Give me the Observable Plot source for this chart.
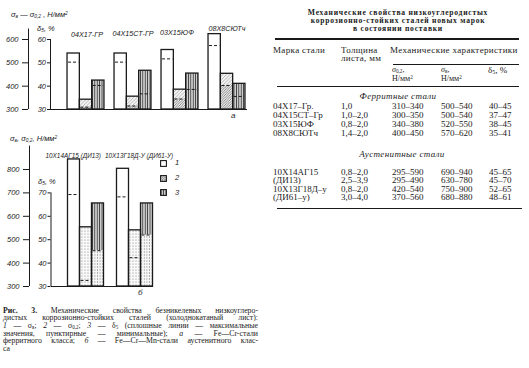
<!DOCTYPE html>
<html><head><meta charset="utf-8">
<script src="https://cdn.jsdelivr.net/npm/d3@7"></script>
<script src="https://cdn.jsdelivr.net/npm/@observablehq/plot@0.6"></script>
<style>
body{margin:0;background:#fff;}
#page{position:relative;width:529px;height:368px;overflow:hidden;background:#fff;color:#1a1a1a;}
.abs{position:absolute;white-space:nowrap;}
.lbl{font-family:"Liberation Sans Narrow","Liberation Sans",sans-serif;font-style:italic;font-size:7.5px;line-height:8px;}
.ser{font-family:"Liberation Serif","DejaVu Serif",serif;font-size:9px;line-height:9px;}
.ttl{font-weight:bold;font-size:7.6px;letter-spacing:0.75px;}
.hdr{letter-spacing:0.35px;}
.sm{font-size:8px;}
.it{font-style:italic;}
sub{font-size:65%;vertical-align:-0.25em;line-height:0;}
sup{font-size:65%;vertical-align:0.4em;line-height:0;}
.rule{position:absolute;background:#1a1a1a;}
.cap{position:absolute;left:3px;top:306.5px;width:255px;font-family:"Liberation Serif","DejaVu Serif",serif;font-size:7.8px;line-height:7.7px;color:#1a1a1a;}
.cap div{text-align:justify;text-align-last:justify;white-space:nowrap;height:7.7px;}
.cap div.last{text-align-last:left;}
</style></head><body><div id="page"></div>
<script>
// ---------- Chart а (ferritic Fe–Cr steels) ----------
const gradesA = ["04Х17-ГР", "04Х15СТ-ГР", "03Х15ЮФ", "08Х8СЮТч"];
const sigmaBMaxA = [540, 540, 555, 623];
const sigmaBMinA = [503, 503, 517, 574];
const sigma02MaxA = [342, 355, 385, 453];
const sigma02MinA = [310, 315, 345, 403];
const deltaMaxA = [42.4, 46.6, 45.4, 41.0];
const deltaMinA = [40.3, 36.7, 38.6, 35.6];
const sigmaTicksA = [300, 400, 500, 600];
const deltaTicksA = [30, 40, 50, 60];
const sigmaAxisA = [300, 645];
const deltaAxisA = [30, 60];

// ---------- Chart б (austenitic Fe–Cr–Mn steels) ----------
const gradesB = ["10Х14АГ15 (ДИ13)", "10Х13Г18Д-У (ДИ61-У)"];
const sigmaBMaxB = [843, 803];
const sigmaBMinB = [693, 683];
const sigma02MaxB = [553, 540];
const sigma02MinB = [326, 423];
const deltaMaxB = [65.5, 65.5];
const deltaMinB = [45.3, 52.0];
const sigmaTicksB = [300, 400, 500, 600, 700, 800];
const deltaTicksB = [30, 40, 50, 60, 70];
const sigmaAxisB = [300, 900];
const deltaAxisB = [30, 70];

const legendLabels = ["1", "2", "3"];

// ---------- Table ----------
const tableTitle = ["Механические свойства низкоуглеродистых", "коррозионно-стойких сталей новых марок", "в состоянии поставки"];
const ferriticGrades = ["04Х17–Гр.", "04Х15СТ–Гр", "03Х15ЮФ", "08Х8СЮТч"];
const ferriticThickness = ["1,0", "1,0–2,0", "0,8–2,0", "1,4–2,0"];
const ferriticSigma02 = ["310–340", "300–350", "340–380", "400–450"];
const ferriticSigmaB = ["500–540", "500–540", "520–550", "570–620"];
const ferriticDelta = ["40–45", "37–47", "38–45", "35–41"];
const austeniticGrades = ["10Х14АГ15", "(ДИ13)", "10Х13Г18Д–у", "(ДИ61–у)"];
const austeniticThickness = ["0,8–2,0", "2,5–3,9", "0,8–2,0", "3,0–4,0"];
const austeniticSigma02 = ["295–590", "295–490", "420–540", "370–560"];
const austeniticSigmaB = ["690–940", "630–780", "750–900", "680–880"];
const austeniticDelta = ["45–65", "45–70", "52–65", "48–61"];

const captionLines = [
  "<b>Рис. 3.</b> Механические свойства безникелевых низкоуглеро-",
  "дистых коррозионно-стойких сталей (холоднокатаный лист):",
  "<i>1</i> — σ<sub>в</sub>; <i>2</i> — σ<sub>0,2</sub>; <i>3</i> — δ<sub>5</sub> (сплошные линии — максимальные",
  "значения, пунктирные — минимальные); <i>а</i> — Fe—Cr-стали",
  "ферритного класса; <i>б</i> — Fe—Cr—Mn-стали аустенитного клас-",
  "са"
];

// ---------- rendering ----------
const page = document.getElementById("page");
const ink = "#1a1a1a";
const R = sigmaTicksA[0] / deltaTicksA[0]; // δ5 % axis aligned: 30 % ↔ 300 Н/мм²

page.insertAdjacentHTML("beforeend", `
<svg width="0" height="0" style="position:absolute;left:0;top:0">
 <defs>
  <pattern id="diagLight" patternUnits="userSpaceOnUse" width="3.5" height="3.5">
   <rect width="3.5" height="3.5" fill="#f4f4f4"/>
   <path d="M-1,1 l2,-2 M0,3.5 l3.5,-3.5 M2.5,4.5 l2,-2" stroke="#777" stroke-width="0.5"/>
  </pattern>
  <pattern id="diag" patternUnits="userSpaceOnUse" width="2.5" height="2.5">
   <rect width="2.5" height="2.5" fill="#eee"/>
   <path d="M-1,1 l2,-2 M0,2.5 l2.5,-2.5 M1.5,3.5 l2,-2" stroke="#444" stroke-width="0.6"/>
  </pattern>
  <pattern id="vert" patternUnits="userSpaceOnUse" width="2.4" height="4">
   <rect width="2.4" height="4" fill="#d8d8d8"/>
   <line x1="1.2" y1="0" x2="1.2" y2="4" stroke="#333" stroke-width="0.9"/>
  </pattern>
  <pattern id="vertLight" patternUnits="userSpaceOnUse" width="2.6" height="3">
   <rect width="2.6" height="3" fill="#f6f6f6"/>
   <line x1="1.3" y1="0" x2="1.3" y2="2" stroke="#999" stroke-width="0.7"/>
  </pattern>
  <pattern id="dots" patternUnits="userSpaceOnUse" width="3" height="3">
   <rect width="3" height="3" fill="#fafafa"/>
   <circle cx="1" cy="1" r="0.55" fill="#777"/>
  </pattern>
  <pattern id="cross" patternUnits="userSpaceOnUse" width="2.5" height="2.5">
   <rect width="2.5" height="2.5" fill="#eee"/>
   <path d="M0,0 L2.5,2.5 M2.5,0 L0,2.5" stroke="#555" stroke-width="0.5"/>
  </pattern>
 </defs>
</svg>`);

function place(html, x, yc, cls, align = "left", lh = 9) {
  const d = document.createElement("div");
  d.className = "abs " + cls;
  d.innerHTML = html;
  d.style.left = x + "px";
  d.style.top = (yc - lh / 2) + "px";
  d.style.lineHeight = lh + "px";
  if (align === "center") d.style.transform = "translateX(-50%)";
  page.appendChild(d);
  return d;
}
function hrule(x1, x2, y, t = 1) {
  const d = document.createElement("div");
  d.className = "rule";
  d.style.left = x1 + "px"; d.style.width = (x2 - x1) + "px";
  d.style.top = (y - t / 2) + "px"; d.style.height = t + "px";
  page.appendChild(d);
}

function chart(c) {
  const xDomain = [-0.5, c.grades.length - 0.5];
  const rows = (mx, mn, k, s) => c.grades.map((g, i) => ({i, k, max: mx[i] * s, min: mn[i] * s}));
  const sb = rows(c.sbMax, c.sbMin, 0, 1);
  const s02 = rows(c.s02Max, c.s02Min, 1, 1);
  const dl = rows(c.dMax, c.dMin, 2, R);
  const all = [...sb, ...s02, ...dl];
  const X1 = d => d.i + (d.k - 1.5) * c.barW;
  const X2 = d => d.i + (d.k - 0.5) * c.barW;
  const base = c.yDomain[0];
  const marks = [
    Plot.ruleY([base], {stroke: ink, strokeWidth: 1.1, insetLeft: c.baseInsetL, insetRight: c.baseInsetR}),
    Plot.rectY(sb, {x1: X1, x2: X2, y1: base, y2: "max", fill: "white"}),
    Plot.rectY(s02, {x1: X1, x2: X2, y1: base, y2: "max", fill: c.f02}),
    c.f02Low ? Plot.rectY(s02, {x1: X1, x2: X2, y1: base, y2: "min", fill: c.f02Low}) : null,
    Plot.rectY(dl, {x1: X1, x2: X2, y1: base, y2: "max", fill: c.fD}),
    c.fDUp ? Plot.rectY(dl, {x1: X1, x2: X2, y1: "min", y2: "max", fill: c.fDUp}) : null,
    Plot.ruleY(all, {x1: X1, x2: X2, y: "min", stroke: ink, strokeWidth: 1, strokeDasharray: "3,2", insetLeft: 1, insetRight: 1}),
    Plot.rectY(all, {x1: X1, x2: X2, y1: base, y2: "max", fill: "none", stroke: ink, strokeWidth: 1.3}),
    // axis lines
    Plot.ruleX([xDomain[0]], {y1: c.sigmaAxis[0], y2: c.sigmaAxis[1], dx: c.sigmaDx, stroke: ink, strokeWidth: 1}),
    Plot.ruleX([xDomain[0]], {y1: c.deltaAxis[0] * R, y2: c.deltaAxis[1] * R, dx: c.deltaDx, stroke: ink, strokeWidth: 1}),
    Plot.axisY(c.sigmaTicks, {anchor: "left", dx: c.sigmaDx, tickSize: 6, tickPadding: 4, label: null, stroke: ink, fill: ink}),
    Plot.axisY(c.deltaTicks.map(d => d * R), {anchor: "left", dx: c.deltaDx, tickSize: 3, tickPadding: 1.5, tickFormat: d => d / R, label: null, stroke: ink, fill: ink}),
    ...c.grades.map((g, i) => Plot.text([g], {x: () => i, text: d => d, frameAnchor: "top", dy: c.labelDy[i], dx: c.labelDx[i], textAnchor: c.labelAnchor[i], fontSize: c.labelSize, fill: ink})),
    Plot.text([c.corner], {text: d => d, frameAnchor: "bottom-right", dx: c.cornerDx, dy: c.cornerDy, fill: ink, fontSize: 8})
  ].filter(Boolean);
  const svg = Plot.plot({
    width: c.w, height: c.h,
    marginTop: c.mt, marginBottom: c.mb, marginLeft: c.ml, marginRight: c.mr,
    x: {type: "linear", domain: xDomain, axis: null, label: null},
    y: {domain: c.yDomain, label: null},
    style: {fontFamily: '"Liberation Sans Narrow","Liberation Sans",sans-serif', fontStyle: "italic", fontSize: "7.5px", color: ink, background: "transparent", overflow: "visible"},
    marks
  });
  const wrap = document.createElement("div");
  wrap.className = "abs";
  wrap.style.left = c.left + "px"; wrap.style.top = c.top + "px";
  wrap.appendChild(svg);
  page.appendChild(wrap);
}

chart({
  grades: gradesA, sbMax: sigmaBMaxA, sbMin: sigmaBMinA, s02Max: sigma02MaxA, s02Min: sigma02MinA,
  dMax: deltaMaxA, dMin: deltaMinA, sigmaTicks: sigmaTicksA, deltaTicks: deltaTicksA,
  sigmaAxis: sigmaAxisA, deltaAxis: deltaAxisA, yDomain: [sigmaTicksA[0], sigmaTicksA[sigmaTicksA.length - 1]],
  barW: 0.262, w: 260, h: 128, mt: 39, mb: 19, ml: 62, mr: 10, left: 0, top: 0,
  sigmaDx: -34, deltaDx: -12,
  labelDy: [-7.3, -8.3, -9.7, -14], labelDx: [1, 0, -3, 0], labelAnchor: ["middle", "middle", "middle", "middle"], labelSize: 7.2,
  corner: "а", cornerDx: -15, cornerDy: 8, baseInsetL: -12, baseInsetR: 3,
  f02: "url(#diagLight)", f02Low: "url(#diag)", fD: "url(#vert)", fDUp: null
});

chart({
  grades: gradesB, sbMax: sigmaBMaxB, sbMin: sigmaBMinB, s02Max: sigma02MaxB, s02Min: sigma02MinB,
  dMax: deltaMaxB, dMin: deltaMinB, sigmaTicks: sigmaTicksB, deltaTicks: deltaTicksB,
  sigmaAxis: sigmaAxisB, deltaAxis: deltaAxisB, yDomain: [sigmaTicksB[0], sigmaTicksB[sigmaTicksB.length - 1]],
  barW: 0.245, w: 260, h: 170, mt: 41, mb: 12, ml: 61, mr: 101, left: 0, top: 128,
  sigmaDx: -32, deltaDx: -10.5,
  labelDy: [-16, -16], labelDx: [15, -30], labelAnchor: ["end", "start"], labelSize: 6.4,
  corner: "б", cornerDx: -17, cornerDy: 8, baseInsetL: -10, baseInsetR: 6,
  f02: "url(#dots)", f02Low: null, fD: "url(#vertLight)", fDUp: "url(#vert)"
});

// axis titles
place("σ<sub>в</sub> — σ<sub>0,2</sub> , Н/мм<sup>2</sup>", 11, 15, "lbl", "left", 8);
place("δ<sub>5</sub>, %", 37, 29, "lbl", "left", 8);
place("σ<sub>в</sub>, σ<sub>0,2</sub>, Н/мм<sup>2</sup>", 10, 139, "lbl", "left", 8);
place("δ<sub>5</sub>, %", 38, 182, "lbl", "left", 8);

// legend
const legendFills = ["white", "url(#cross)", "url(#vert)"];
const legendY = [163.3, 178.3, 192.7];
legendLabels.forEach((l, i) => {
  page.insertAdjacentHTML("beforeend",
    `<svg class="abs" style="left:160px;top:${legendY[i] - 3.5}px" width="7" height="7"><rect x="0.6" y="0.6" width="5.8" height="5.8" fill="${legendFills[i]}" stroke="${ink}" stroke-width="1.1"/></svg>`);
  place(l, 175, legendY[i], "lbl", "left", 8);
});

// table
tableTitle.forEach((t, i) => place(t, 398, 13 + i * 8, "ser ttl", "center", 8));
hrule(275, 519, 39, 1.2);
place("Марка стали", 273, 50, "ser hdr");
place("Толщина", 341, 50, "ser hdr");
place("листа, мм", 341, 58.3, "ser hdr");
place("Механические характеристики", 390, 50, "ser hdr");
hrule(393, 519, 64, 0.7);
place("<i>σ</i><sub>0,2</sub>,", 392, 69.8, "ser sm", "left", 8);
place("Н/мм<sup>2</sup>", 392, 78.5, "ser sm", "left", 8);
place("<i>σ</i><sub>в</sub>,", 441, 69.8, "ser sm", "left", 8);
place("Н/мм<sup>2</sup>", 441, 78.5, "ser sm", "left", 8);
place("δ<sub>5</sub>, %", 488, 69.8, "ser", "left", 8);
hrule(277, 519, 86.7, 1);
place("Ферритные стали", 398, 96, "ser it hdr", "center");
const colX = [273, 341, 392, 441, 489];
[ferriticGrades, ferriticThickness, ferriticSigma02, ferriticSigmaB, ferriticDelta].forEach((col, c) =>
  col.forEach((v, r) => place(v, colX[c], 106.5 + r * 9.1, "ser")));
place("Аустенитные стали", 402, 154, "ser it hdr", "center");
[austeniticGrades, austeniticThickness, austeniticSigma02, austeniticSigmaB, austeniticDelta].forEach((col, c) =>
  col.forEach((v, r) => place(v, colX[c], 172.3 + r * 8.35, "ser", "left", 8.35)));
hrule(277, 522, 208.3, 1.1);

// caption
const cap = document.createElement("div");
cap.className = "cap";
cap.innerHTML = captionLines.map((l, i) => `<div class="${i === captionLines.length - 1 ? "last" : ""}">${l}</div>`).join("");
page.appendChild(cap);
</script>
</body></html>
